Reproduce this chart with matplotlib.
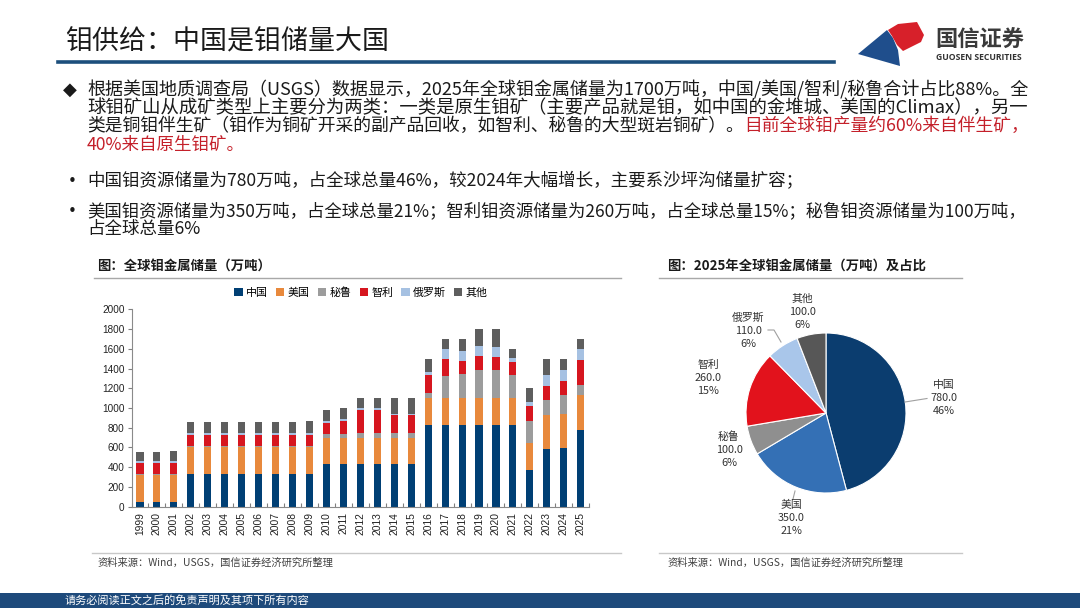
import matplotlib
matplotlib.use('Agg')
import matplotlib.pyplot as plt
from matplotlib.patches import Patch, Polygon, Rectangle
from matplotlib.lines import Line2D
import numpy as np

W, H = 1080, 608
CJK = ['Noto Sans CJK SC', 'DejaVu Sans']
plt.rcParams['font.family'] = CJK
plt.rcParams['axes.unicode_minus'] = False

# ---------------- data ----------------
years = [str(y) for y in range(1999, 2026)]
china  = [50, 50, 50, 330, 330, 330, 330, 330, 330, 330, 330,
          430, 430, 430, 430, 430, 430, 830, 830, 830, 830, 830, 830,
          370, 580, 590, 780]
usa    = [270, 270, 270, 270, 270, 270, 270, 270, 270, 270, 270,
          270, 270, 270, 270, 270, 270, 270, 270, 270, 270, 270, 270,
          280, 350, 350, 350]
peru   = [14, 14, 14, 14, 14, 14, 14, 14, 14, 14, 14,
          35, 40, 45, 45, 45, 45, 50, 220, 240, 280, 280, 230,
          220, 150, 190, 100]
chile  = [110, 110, 110, 110, 110, 110, 110, 110, 110, 110, 110,
          115, 130, 235, 235, 180, 180, 180, 180, 140, 150, 140, 140,
          150, 140, 140, 260]
russia = [20, 20, 20, 20, 20, 20, 20, 20, 20, 20, 20,
          15, 15, 20, 15, 15, 15, 30, 100, 100, 100, 100, 40,
          40, 110, 110, 110]
others = [86, 86, 96, 116, 116, 116, 116, 116, 116, 116, 126,
          115, 115, 100, 105, 160, 160, 140, 100, 120, 170, 180, 90,
          140, 170, 120, 100]
series_names = ['中国', '美国', '秘鲁', '智利', '俄罗斯', '其他']
bar_colors = ['#003F74', '#E8893C', '#9C9C9C', '#D6161F', '#A6C1E2', '#5E5E5E']
y_ticks = [0, 200, 400, 600, 800, 1000, 1200, 1400, 1600, 1800, 2000]

pie_labels = ['中国', '美国', '秘鲁', '智利', '俄罗斯', '其他']
pie_values = [780, 350, 100, 260, 110, 100]
pie_colors = ['#0B3D6F', '#3470B5', '#8F8F8F', '#E2121C', '#A9C6EA', '#575757']

title = '钼供给：中国是钼储量大国'
bullet1_lines = [
    '根据美国地质调查局（USGS）数据显示，2025年全球钼金属储量为1700万吨，中国/美国/智利/秘鲁合计占比88%。全',
    '球钼矿山从成矿类型上主要分为两类：一类是原生钼矿（主要产品就是钼，如中国的金堆城、美国的Climax），另一',
]
bullet1_l3_black = '类是铜钼伴生矿（钼作为铜矿开采的副产品回收，如智利、秘鲁的大型斑岩铜矿）。'
bullet1_l3_red = '目前全球钼产量约60%来自伴生矿，'
bullet1_l4_red = '40%来自原生钼矿。'
bullet2 = '中国钼资源储量为780万吨，占全球总量46%，较2024年大幅增长，主要系沙坪沟储量扩容；'
bullet3_lines = [
    '美国钼资源储量为350万吨，占全球总量21%；智利钼资源储量为260万吨，占全球总量15%；秘鲁钼资源储量为100万吨，',
    '占全球总量6%',
]
left_title = '图：全球钼金属储量（万吨）'
right_title = '图：2025年全球钼金属储量（万吨）及占比'
source = '资料来源：Wind，USGS，国信证券经济研究所整理'
footer = '请务必阅读正文之后的免责声明及其项下所有内容'

# ---------------- figure ----------------
fig = plt.figure(figsize=(10.8, 6.08), dpi=100)
fig.patch.set_facecolor('white')
R = fig.canvas.get_renderer()

def X(px):
    return px / W

def Y(py):
    return 1 - py / H

def put(x, y, s, fs, color='#1a1a1a', right=None, **kw):
    t = fig.text(X(x), Y(y), s, fontsize=fs, color=color, va='center', ha=kw.pop('ha', 'left'), **kw)
    if right is not None:
        w = t.get_window_extent(R).width
        t.set_fontsize(fs * (right - x) / w)
    return t

def hline(x0, x1, y, color, lw):
    fig.add_artist(Line2D([X(x0), X(x1)], [Y(y), Y(y)], color=color, lw=lw,
                          transform=fig.transFigure))

def poly(pts, color):
    fig.add_artist(Polygon([(X(a), Y(b)) for a, b in pts], closed=True, facecolor=color,
                           edgecolor='none', transform=fig.transFigure))

# header
put(65, 42, title, 19.5, color='#1a1a1a', right=389)
hline(58, 834, 62, '#1C4F7C', 2.6)
poly([(858, 54), (887, 30), (893, 38), (898, 50), (900, 66)], '#1F4E8C')
poly([(888, 30), (898, 24), (917, 22), (924, 35), (921, 42), (903, 51), (897, 45), (892, 36)], '#D7202A')
put(935, 40, '国信证券', 16, color='#3a3a3a', fontweight='bold', right=1024)
put(936, 58, 'GUOSEN SECURITIES', 6, color='#333333', fontweight='bold', right=1023,
    family=['Open Sans', 'DejaVu Sans'])

# bullet text
fs_body = 12.6
put(63, 90, '◆', 13, color='#1a1a1a', family=['DejaVu Sans'])
put(87, 90, bullet1_lines[0], fs_body, right=1031)
put(87, 108, bullet1_lines[1], fs_body, right=1029)
tb = put(87, 126, bullet1_l3_black, fs_body)
wb = tb.get_window_extent(R).x1
tr = put(wb, 126, bullet1_l3_red, fs_body, color='#C4202A')
total_w = tr.get_window_extent(R).x1 - 87
scale = (1031 - 87) / total_w
tb.set_fontsize(fs_body * scale)
wb = tb.get_window_extent(R).x1
tr.set_position((X(wb), Y(126)))
tr.set_fontsize(fs_body * scale)
put(87, 145, bullet1_l4_red, fs_body, color='#C4202A')
put(68, 181, '•', 11, color='#1a1a1a', family=['DejaVu Sans'])
put(87, 181, bullet2, fs_body)
put(68, 211, '•', 11, color='#1a1a1a', family=['DejaVu Sans'])
put(87, 211, bullet3_lines[0], fs_body, right=1026)
put(87, 229, bullet3_lines[1], fs_body)

# chart titles / rules / sources
put(97, 266, left_title, 9.6, color='#1a1a1a', fontweight='bold')
put(667, 266, right_title, 9.6, color='#1a1a1a', fontweight='bold')
hline(94, 621, 278.5, '#A8A8A8', 1.0)
hline(659, 962, 278.5, '#A8A8A8', 1.0)
hline(92, 621, 553, '#C8C8C8', 1.0)
hline(659, 962, 553, '#C8C8C8', 1.0)
put(97, 563, source, 7.4, color='#404040')
put(667, 563, source, 7.4, color='#404040')

# footer
fig.add_artist(Rectangle((0, 0), 1, (608 - 593) / H, facecolor='#1E4A7B', edgecolor='none',
                         transform=fig.transFigure))
put(65, 600.5, footer, 8, color='white')

# ---------------- bar chart ----------------
ax = fig.add_axes([X(131.5), Y(506.7), (589.2 - 131.5) / W, (506.7 - 309.3) / H])
xpos = np.arange(len(years))
bottom = np.zeros(len(years))
handles = []
for name, vals, col in zip(series_names, [china, usa, peru, chile, russia, others], bar_colors):
    ax.bar(xpos, vals, width=0.42, bottom=bottom, color=col, edgecolor='none', label=name)
    bottom += np.array(vals)
    handles.append(Patch(facecolor=col, edgecolor='none', label=name))
ax.set_xlim(-0.5, len(years) - 0.5)
ax.set_ylim(0, 2000)
ax.set_yticks(y_ticks)
ax.set_yticklabels([str(v) for v in y_ticks], family=['Liberation Sans', 'DejaVu Sans'],
                   fontsize=7.2, color='#222222')
ax.set_xticks(xpos)
ax.set_xticklabels(years, rotation=90, family=['Liberation Sans', 'DejaVu Sans'],
                   fontsize=7.4, color='#222222')
ax.set_xticks(np.arange(-0.5, len(years)), minor=True)
ax.tick_params(axis='x', which='major', length=0, pad=4)
ax.tick_params(axis='x', which='minor', length=3, direction='in', color='#808080', width=0.8)
ax.tick_params(axis='y', length=3, direction='out', color='#808080', width=0.8, pad=2)
for s in ['top', 'right']:
    ax.spines[s].set_visible(False)
for s in ['left', 'bottom']:
    ax.spines[s].set_color('#8A8A8A')
    ax.spines[s].set_linewidth(0.8)
ax.set_facecolor('none')
fig.legend(handles=handles, loc='center', bbox_to_anchor=(X(361), Y(292.5)), ncol=6,
           frameon=False, fontsize=7.9, handlelength=0.75, handleheight=0.75,
           handletextpad=0.3, columnspacing=0.75, borderaxespad=0, borderpad=0)

# ---------------- pie chart ----------------
cx, cy, rr = 826, 413, 80
pax = fig.add_axes([X(cx - rr), Y(cy + rr), 2 * rr / W, 2 * rr / H])
pax.pie(pie_values, colors=pie_colors, startangle=90, counterclock=False, radius=1,
        wedgeprops=dict(edgecolor='white', linewidth=0.8))
pax.set_xlim(-1, 1)
pax.set_ylim(-1, 1)
pax.axis('off')

total = sum(pie_values)
label_pos = {'中国': (944, 398), '美国': (791, 518), '秘鲁': (729, 450),
             '智利': (708, 378), '俄罗斯': (748, 331), '其他': (802, 312)}
for name, v in zip(pie_labels, pie_values):
    lx, ly = label_pos[name]
    for k, s in enumerate([name, f'{v:.1f}', f'{v / total * 100:.0f}%']):
        put(lx, ly + (k - 1) * 13.4, s, 7.8, color='#333333', ha='center')

def leader(pts):
    fig.add_artist(Line2D([X(a) for a, b in pts], [Y(b) for a, b in pts], color='#A0A0A0',
                          lw=0.8, transform=fig.transFigure))

leader([(905, 402), (927, 398.5)])
leader([(795, 491), (793, 499)])
leader([(768, 330), (774, 330), (781, 342)])

fig.savefig('out.png', dpi=100)
